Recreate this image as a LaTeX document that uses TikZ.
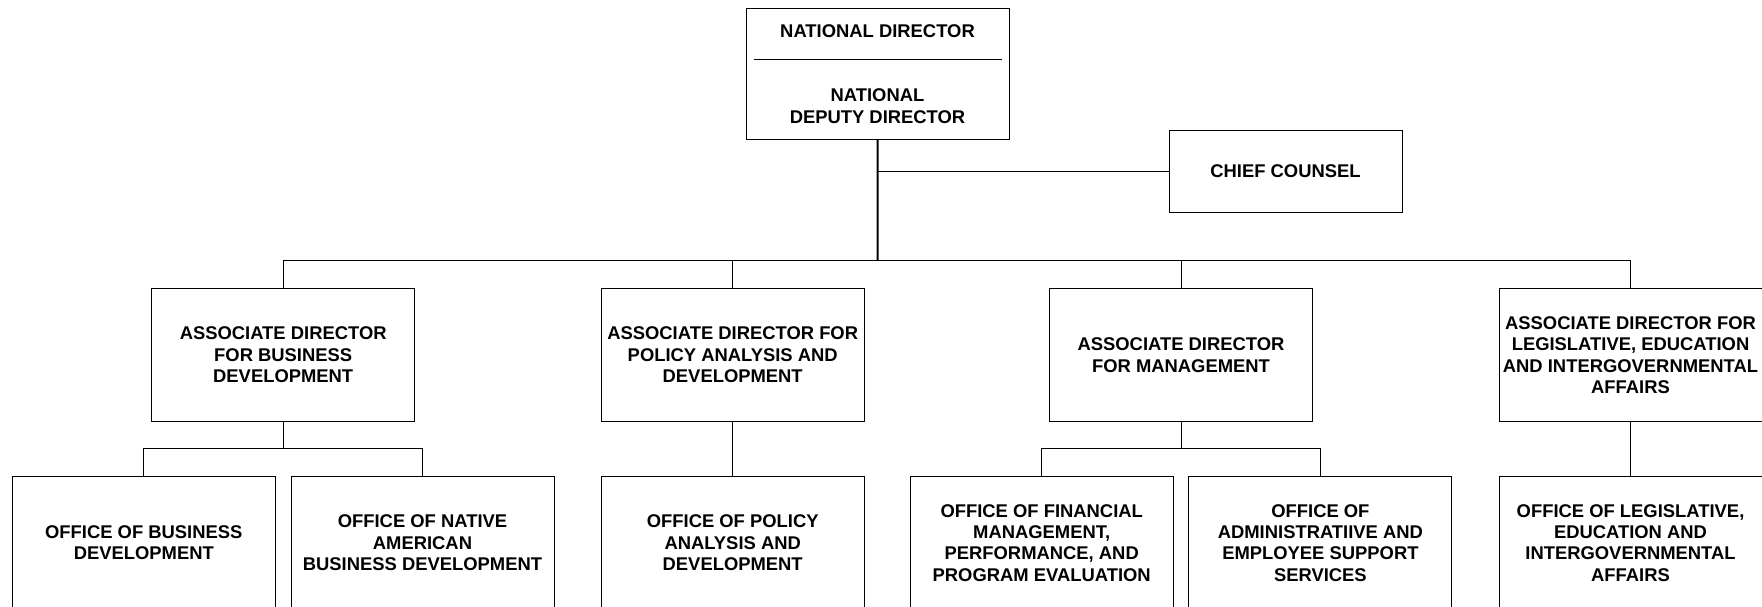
\documentclass[tikz,border=0pt]{standalone}
\usepackage{fontspec}
\setmainfont{Liberation Sans}
\usetikzlibrary{positioning,calc}

\tikzset{
  unittext/.style={font=\bfseries\fontsize{9.2}{10.7}\selectfont, align=center, inner sep=1pt},
  unit/.style={unittext, draw, line width=0.5pt, minimum width=131.5pt, minimum height=66.3pt},
  link/.style={line width=0.5pt},
  trunk/.style={line width=1pt},
}

\begin{document}
\begin{tikzpicture}[x=0.5pt,y=-0.5pt]
  \useasboundingbox (0,0) rectangle (1762,606);

  % national director and deputy
  \node[unit, minimum height=65.5pt] (natdir) at (877.5,73.5) {};
  \node[unittext] (natdirname) at (877.5,31.5) {NATIONAL DIRECTOR};
  \draw[link] ($(natdir.north west)+(8,51.6)$) -- ($(natdir.north east)+(-8,51.6)$);
  \node[unittext] (deputy) at (877.5,106) {NATIONAL\\DEPUTY DIRECTOR};

  \node[unit, minimum width=116.5pt, minimum height=41pt] (counsel) at (1285.5,171) {CHIEF COUNSEL};
  \coordinate (bus) at (877.6,260.7);

  % associate directors
  \node[unit] (bizdev) at (283.2,355) {ASSOCIATE DIRECTOR\\FOR BUSINESS\\DEVELOPMENT};
  \node[unit] (policy) at (732.7,355) {ASSOCIATE DIRECTOR FOR\\POLICY ANALYSIS AND\\DEVELOPMENT};
  \node[unit] (mgmt)   at (1181,355)  {ASSOCIATE DIRECTOR\\FOR MANAGEMENT};
  \node[unit] (legis)  at (1630.5,355) {ASSOCIATE DIRECTOR FOR\\LEGISLATIVE, EDUCATION\\AND INTERGOVERNMENTAL\\AFFAIRS};

  % offices
  \node[unit] (offbiz)    at (143.8,542.8)  {OFFICE OF BUSINESS\\DEVELOPMENT};
  \node[unit] (offnative) at (422.5,542.8)  {OFFICE OF NATIVE\\AMERICAN\\BUSINESS DEVELOPMENT};
  \node[unit] (offpolicy) at (732.7,542.8)  {OFFICE OF POLICY\\ANALYSIS AND\\DEVELOPMENT};
  \node[unit] (offfin)    at (1041.7,542.8) {OFFICE OF FINANCIAL\\MANAGEMENT,\\PERFORMANCE, AND\\PROGRAM EVALUATION};
  \node[unit] (offadmin)  at (1320.4,542.8) {OFFICE OF\\ADMINISTRATIIVE AND\\EMPLOYEE SUPPORT\\SERVICES};
  \node[unit] (offlegis)  at (1630.5,542.8) {OFFICE OF LEGISLATIVE,\\EDUCATION AND\\INTERGOVERNMENTAL\\AFFAIRS};

  % connectors
  \draw[trunk] (natdir.south) -- (bus);
  \draw[link] (counsel.west) -- (counsel.west -| natdir.south);
  \draw[link] (bizdev.north |- bus) -- (legis.north |- bus);
  \foreach \n in {bizdev,policy,mgmt,legis}
    \draw[link] (\n.north) -- (\n.north |- bus);

  \draw[link] (bizdev.south) -- ++(0,27) coordinate (bizbus);
  \draw[link] (offbiz.north) |- (bizbus) -| (offnative.north);
  \draw[link] (policy.south) -- (offpolicy.north);
  \draw[link] (mgmt.south) -- ++(0,27) coordinate (mgmtbus);
  \draw[link] (offfin.north) |- (mgmtbus) -| (offadmin.north);
  \draw[link] (legis.south) -- (offlegis.north);
\end{tikzpicture}
\end{document}
